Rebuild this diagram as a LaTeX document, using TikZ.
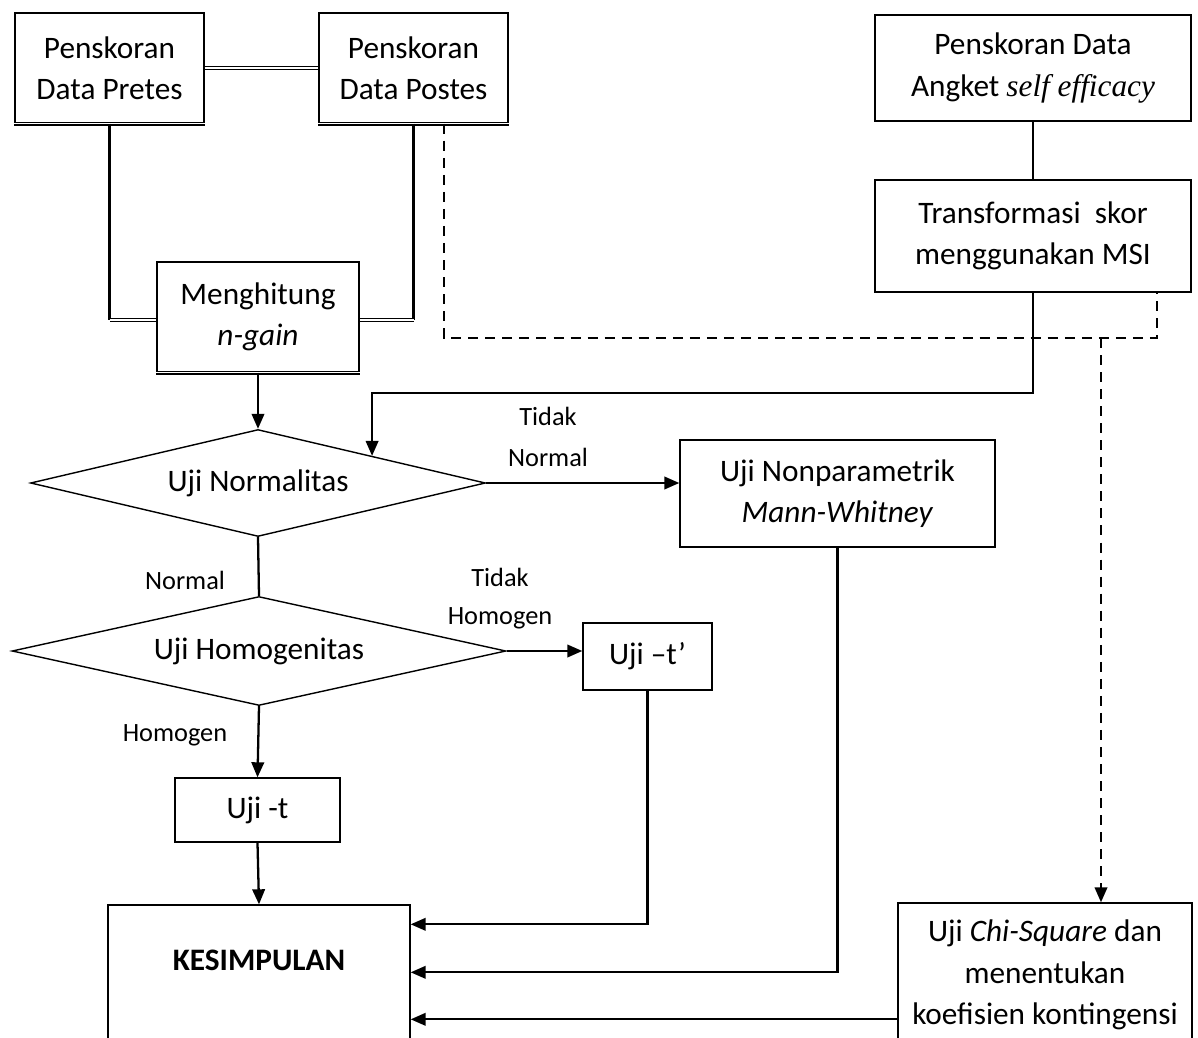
\documentclass[tikz,border=0pt]{standalone}
\usepackage{fontspec}
\setmainfont{Carlito}
\newfontfamily\seriffont{Liberation Serif}
\usetikzlibrary{positioning, arrows.meta, calc, shapes.geometric}
\tikzset{
  base/.style={draw, align=center, inner sep=2pt, line width=0.8pt,
               font=\fontsize{17.8}{23.5}\selectfont},
  box/.style={base, rectangle},
  decision/.style={base, diamond, aspect=4.3, inner sep=0pt},
  arrow/.style={-{Triangle[length=3mm, width=2.5mm]}, line width=1.3pt},
  link/.style={line width=1.3pt},
  dbl/.style={draw=black, double=white, double distance=0.9pt, line width=0.65pt},
  dashlink/.style={link, dash pattern=on 5.7pt off 4pt},
  lbl/.style={font=\fontsize{15}{23}\selectfont, align=center},
}

\begin{document}
\begin{tikzpicture}[x=0.02cm, y=-0.02cm]
\useasboundingbox (0,0) rectangle (1198,1038);
\clip (0,0) rectangle (1198,1038);

%% ====================  SCORING  ====================

\node[box, minimum width=3.78cm, minimum height=2.2cm] (pre) at (109.5,68)
  {Penskoran\\Data Pretes};
\node[box, minimum width=3.78cm, minimum height=2.2cm] (post) at (413.5,68)
  {Penskoran\\Data Postes};
\node[box, minimum width=4.04cm, minimum height=2.2cm] (ngain) at (258,317)
  {Menghitung\\\textit{n-gain}};

\node[box, minimum width=6.32cm, minimum height=2.12cm] (angket) at (1033,68)
  {Penskoran Data\\Angket {\seriffont\itshape self efficacy}};
\node[box, minimum width=6.32cm, minimum height=2.24cm] (msi) at (1033,236)
  {Transformasi\ \ skor\\menggunakan MSI};

%% double edges
\draw[dbl] (pre.south west) -- (pre.south east);
\draw[dbl] (post.south west) -- (post.south east);
\draw[dbl] (ngain.south west) -- (ngain.south east);
\draw[dbl] (pre.east) -- (post.west);

\coordinate (preturn) at ($(pre.south |- ngain.west)+(0,3)$);
\coordinate (postturn) at ($(post.south |- ngain.west)+(0,3)$);
\draw[link] (pre.south) -- (preturn);
\draw[dbl] (preturn) -- (preturn -| ngain.west);
\draw[link] (post.south) -- (postturn);
\draw[dbl] (postturn) -- (postturn -| ngain.east);

\draw[link] (angket) -- (msi);

%% ====================  TESTS  ====================

\node[decision, minimum width=9.1cm, minimum height=2.14cm] (norm) at (258,483)
  {Uji Normalitas};
\node[decision, minimum width=9.88cm, minimum height=2.18cm] (homog) at (259,651)
  {Uji Homogenitas};

\node[box, minimum width=6.3cm, minimum height=2.14cm] (nonpar) at (837.5,493.5)
  {Uji Nonparametrik\\\textit{Mann-Whitney}};
\node[box, minimum width=2.58cm, minimum height=1.34cm] (ujitt) at (647.5,656.5)
  {Uji –t’};
\node[box, minimum width=3.3cm, minimum height=1.28cm] (ujit) at (257.5,810)
  {Uji -t};

\node[box, minimum width=6.04cm, minimum height=3.8cm] (kes) at (259,1000) {};
\node[font=\fontsize{17.8}{23.5}\selectfont\bfseries] (kestext) at (259,960) {KESIMPULAN};

\node[box, minimum width=5.88cm, minimum height=2.88cm] (chi) at (1045,975)
  {Uji \textit{Chi-Square} dan\\menentukan\\koefisien kontingensi};

%% labels
\node[lbl, font=\fontsize{15}{23.5}\selectfont] (tnormal) at (548,437) {Tidak\\Normal};
\node[lbl] (normal) at (185,580) {Normal};
\node[lbl, font=\fontsize{15}{21.6}\selectfont] (thomog) at (500,599) {Tidak\\Homogen};
\node[lbl] (homogen) at (175,735) {Homogen};

%% ====================  ARROWS  ====================

\draw[arrow] (ngain.south) -- (norm.north);
\draw[arrow] (msi.south) -- ++(0,100) -| (norm.north east);
\draw[arrow] (norm.east) -- (norm.east -| nonpar.west);
\draw[link] (norm.south) -- (homog.north);
\draw[arrow] (homog.east) -- (homog.east -| ujitt.west);
\draw[arrow] (homog.south) -- (ujit.north);
\draw[arrow] (ujit.south) -- (kes.north);

\coordinate (k1) at ($(kes.north east)+(0,20)$);
\coordinate (k2) at ($(kes.north east)+(0,68)$);
\coordinate (k3) at ($(kes.north east)+(0,115)$);
\draw[arrow] (ujitt.south) |- (k1);
\draw[arrow] (nonpar.south) |- (k2);
\draw[arrow] (chi.west |- k3) -- (k3);

%% dashed route to chi-square
\coordinate (dashL) at (444,338);
\coordinate (dashR) at (1157,338);
\coordinate (dashD) at (1101,338);
\draw[dashlink] (post.south -| dashL) -- (dashL) -- (dashR) -- (msi.south -| dashR);
\draw[dashlink, arrow] (dashD) -- (dashD |- chi.north);

\end{tikzpicture}
\end{document}
